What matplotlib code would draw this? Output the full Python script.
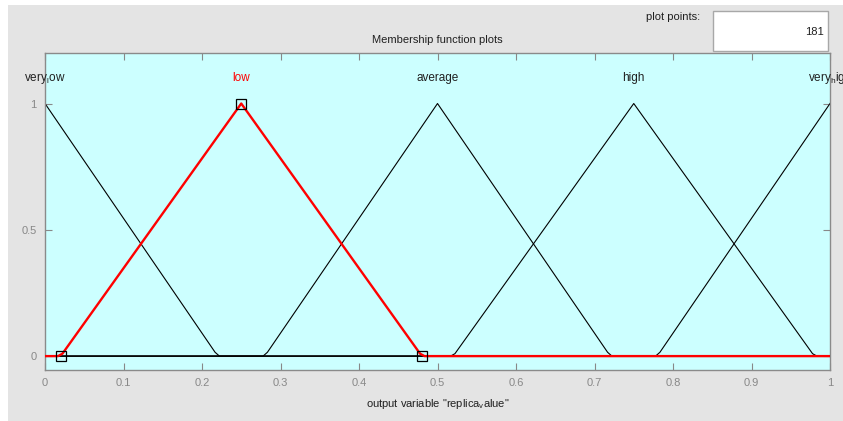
import numpy as np
import matplotlib
matplotlib.use('Agg')
import matplotlib.pyplot as plt
from matplotlib.patches import Rectangle

plt.rcParams['font.family'] = ['Liberation Sans', 'DejaVu Sans']
plt.rcParams['mathtext.default'] = 'regular'

# membership functions of output variable "replica_value" (trimf params)
mf_names = ['very$_l$ow', 'low', 'average', 'high', 'very$_h$igh']
mf_params = [[-0.22, 0.0, 0.22],
             [0.02, 0.25, 0.48],
             [0.28, 0.50, 0.72],
             [0.52, 0.75, 0.98],
             [0.78, 1.00, 1.22]]
selected = 1
plot_points = 181
x_ticks = [0, 0.1, 0.2, 0.3, 0.4, 0.5, 0.6, 0.7, 0.8, 0.9, 1]
y_ticks = [0, 0.5, 1]

W, H = 843, 421
fig = plt.figure(figsize=(W / 100, H / 100), dpi=100)
fig.patch.set_facecolor('white')
fig.patches.append(Rectangle((8 / W, 0), 1 - 8 / W, (H - 5) / H,
                             transform=fig.transFigure, facecolor='#e4e4e4',
                             edgecolor='none', zorder=-10))

ax = fig.add_axes([45 / W, 1 - 370 / H, 785 / W, 317 / H])
ax.set_facecolor('#ccffff')

x = np.linspace(0, 1, plot_points)
for i, (a, b, c) in enumerate(mf_params):
    if i == selected:
        continue
    y = np.interp(x, [a, b, c], [0, 1, 0], left=0, right=0)
    ax.plot(x, y, color='black', lw=0.8, zorder=2)

a, b, c = mf_params[selected]
y = np.interp(x, [a, b, c], [0, 1, 0], left=0, right=0)
ax.plot(x, y, color='red', lw=1.7, zorder=3)
ax.plot([a, b, c], [0, 1, 0], ls='none', marker='s', ms=7, mfc='none',
        mec='black', mew=0.9, zorder=4)

for i, (name, p) in enumerate(zip(mf_names, mf_params)):
    col = 'red' if i == selected else '#202020'
    ax.text(p[1], 1.1, name, ha='center', va='center', fontsize=8.5,
            color=col, clip_on=False)

ax.set_xlim(0, 1)
ax.set_ylim(-0.055, 1.2)
ax.set_xticks(x_ticks)
ax.set_xticklabels([f'{v:g}' for v in x_ticks])
ax.set_yticks(y_ticks)
ax.set_yticklabels([f'{v:g}' for v in y_ticks])
ax.tick_params(direction='in', length=5, width=0.8, colors='#888888',
               labelsize=8, top=True, right=True, pad=6)
for s in ax.spines.values():
    s.set_color('#8a8a8a')
    s.set_linewidth(1)

ax.set_title('Membership function plots', fontsize=8, color='#202020', pad=7)
ax.set_xlabel('output variable "replica$_v$alue"', fontsize=8,
              color='#202020', labelpad=6)

# plot points box
fig.patches.append(Rectangle((713 / W, 1 - 51 / H), 115 / W, 40 / H,
                             transform=fig.transFigure, facecolor='white',
                             edgecolor='#a8a8a8', lw=1))
fig.text(700 / W, 1 - 17 / H, 'plot points:', ha='right', va='center',
         fontsize=8, color='#202020')
fig.text(824 / W, 1 - 32 / H, str(plot_points), ha='right', va='center',
         fontsize=8, color='#202020')

fig.savefig('out.png', dpi=100)
